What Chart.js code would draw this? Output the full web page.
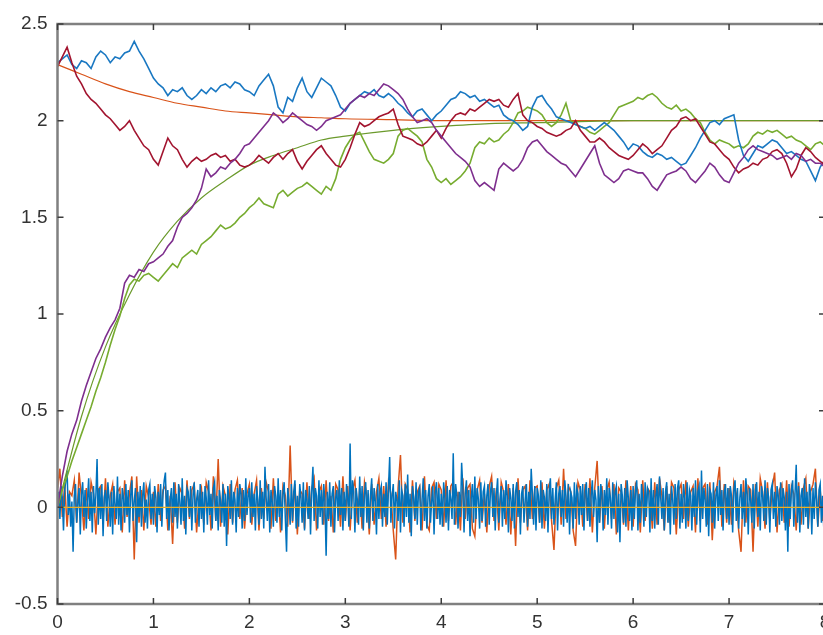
<!DOCTYPE html>
<html>
<head>
<meta charset="utf-8">
<script src="https://cdn.jsdelivr.net/npm/chart.js@4.4.1/dist/chart.umd.min.js"></script>
<style>
  html, body { margin: 0; padding: 0; background: #fff; overflow: hidden; }
  #wrap { width: 823px; height: 635px; overflow: hidden; }
</style>
</head>
<body>
<div id="wrap"><canvas id="myChart" width="840" height="635"></canvas></div>
<script>
// x range covered by the traced series
const xMax = 8;

// axis ticks
const xTicks = [0, 1, 2, 3, 4, 5, 6, 7, 8];
const yTicks = [-0.5, 0, 0.5, 1, 1.5, 2, 2.5];

// random walks, every 0.05
const blueWalk = [
    2.30, 2.32, 2.34, 2.29, 2.27, 2.31, 2.30, 2.27, 2.33, 2.36, 2.34, 2.30, 2.33, 2.32, 2.35, 2.36, 2.41, 2.36, 2.32, 2.27,
    2.22, 2.19, 2.17, 2.13, 2.16, 2.15, 2.17, 2.13, 2.11, 2.13, 2.16, 2.14, 2.17, 2.15, 2.18, 2.19, 2.17, 2.20, 2.19, 2.16,
    2.15, 2.13, 2.18, 2.21, 2.24, 2.18, 2.07, 2.04, 2.12, 2.10, 2.17, 2.22, 2.15, 2.12, 2.17, 2.22, 2.20, 2.18, 2.13, 2.07,
    2.05, 2.09, 2.11, 2.13, 2.15, 2.14, 2.16, 2.13, 2.12, 2.14, 2.12, 2.09, 2.07, 2.04, 2.02, 2.05, 2.06, 2.03, 2.00, 2.03,
    2.05, 2.08, 2.11, 2.12, 2.15, 2.14, 2.12, 2.13, 2.10, 2.11, 2.09, 2.07, 2.08, 2.03, 2.01, 2.00, 1.98, 1.95, 1.97, 2.07,
    2.12, 2.13, 2.09, 2.06, 2.02, 2.01, 2.00, 1.99, 1.98, 1.97, 1.96, 1.97, 1.95, 1.97, 1.99, 1.97, 1.95, 1.92, 1.89, 1.85,
    1.88, 1.87, 1.84, 1.82, 1.81, 1.83, 1.82, 1.80, 1.81, 1.79, 1.77, 1.78, 1.82, 1.86, 1.91, 1.95, 1.99, 2.00, 1.98, 2.01,
    2.02, 2.03, 1.90, 1.82, 1.79, 1.83, 1.87, 1.86, 1.88, 1.90, 1.89, 1.86, 1.83, 1.84, 1.82, 1.80, 1.79, 1.74, 1.69, 1.76, 1.80
];
const redWalk = [
    2.28, 2.33, 2.38, 2.30, 2.23, 2.19, 2.14, 2.11, 2.09, 2.06, 2.03, 2.01, 1.98, 1.95, 1.97, 2.00, 1.95, 1.91, 1.87, 1.85,
    1.80, 1.77, 1.84, 1.91, 1.87, 1.85, 1.80, 1.76, 1.79, 1.81, 1.79, 1.80, 1.82, 1.83, 1.81, 1.82, 1.79, 1.80, 1.77, 1.76,
    1.77, 1.79, 1.82, 1.80, 1.78, 1.81, 1.83, 1.80, 1.83, 1.85, 1.79, 1.75, 1.79, 1.82, 1.85, 1.87, 1.83, 1.80, 1.77, 1.76,
    1.80, 1.86, 1.93, 1.99, 1.97, 1.98, 2.00, 2.02, 2.03, 2.04, 2.06, 1.98, 1.92, 1.91, 1.90, 1.88, 1.87, 1.89, 1.92, 1.95,
    1.91, 1.96, 2.00, 2.03, 2.04, 2.03, 2.06, 2.05, 2.07, 2.09, 2.11, 2.10, 2.11, 2.08, 2.07, 2.11, 2.14, 2.03, 2.00, 1.99,
    1.97, 1.96, 1.94, 1.93, 1.92, 1.93, 1.95, 1.96, 2.00, 1.95, 1.92, 1.89, 1.89, 1.91, 1.89, 1.86, 1.84, 1.82, 1.81, 1.80,
    1.82, 1.85, 1.88, 1.86, 1.83, 1.85, 1.87, 1.91, 1.95, 1.97, 2.01, 2.02, 2.00, 2.01, 1.97, 1.93, 1.89, 1.88, 1.85, 1.82,
    1.80, 1.76, 1.73, 1.75, 1.76, 1.78, 1.77, 1.80, 1.81, 1.84, 1.85, 1.83, 1.78, 1.71, 1.75, 1.82, 1.86, 1.84, 1.81, 1.79, 1.77
];
const purpleWalk = [
    0.00, 0.16, 0.29, 0.38, 0.45, 0.55, 0.63, 0.70, 0.77, 0.82, 0.88, 0.93, 0.97, 1.03, 1.16, 1.20, 1.19, 1.23, 1.22, 1.26,
    1.27, 1.29, 1.31, 1.35, 1.38, 1.45, 1.50, 1.52, 1.55, 1.59, 1.65, 1.75, 1.71, 1.73, 1.76, 1.75, 1.78, 1.80, 1.83, 1.87,
    1.88, 1.91, 1.94, 1.97, 2.00, 2.04, 2.02, 1.99, 2.01, 2.04, 2.02, 2.00, 1.98, 1.97, 1.95, 1.97, 2.00, 2.01, 2.02, 2.03,
    2.06, 2.09, 2.11, 2.13, 2.12, 2.14, 2.13, 2.16, 2.19, 2.18, 2.16, 2.14, 2.11, 2.06, 2.02, 1.99, 2.00, 2.01, 1.99, 1.95,
    1.92, 1.89, 1.86, 1.83, 1.81, 1.79, 1.76, 1.69, 1.66, 1.68, 1.66, 1.64, 1.75, 1.78, 1.76, 1.74, 1.76, 1.80, 1.86, 1.89,
    1.90, 1.87, 1.84, 1.82, 1.80, 1.78, 1.77, 1.74, 1.71, 1.75, 1.79, 1.83, 1.87, 1.78, 1.72, 1.70, 1.68, 1.70, 1.74, 1.75,
    1.74, 1.73, 1.73, 1.70, 1.66, 1.64, 1.68, 1.72, 1.73, 1.74, 1.76, 1.74, 1.70, 1.68, 1.71, 1.74, 1.78, 1.76, 1.72, 1.69,
    1.68, 1.73, 1.78, 1.81, 1.85, 1.87, 1.85, 1.84, 1.83, 1.82, 1.80, 1.81, 1.82, 1.80, 1.83, 1.82, 1.79, 1.80, 1.78, 1.78, 1.76
];
const greenWalk = [
    0.00, 0.09, 0.16, 0.24, 0.31, 0.38, 0.45, 0.52, 0.60, 0.67, 0.75, 0.84, 0.92, 0.99, 1.08, 1.15, 1.18, 1.17, 1.20, 1.21,
    1.19, 1.17, 1.20, 1.23, 1.26, 1.24, 1.29, 1.31, 1.33, 1.31, 1.36, 1.38, 1.40, 1.43, 1.46, 1.44, 1.45, 1.47, 1.50, 1.52,
    1.55, 1.57, 1.60, 1.57, 1.56, 1.55, 1.62, 1.64, 1.61, 1.63, 1.65, 1.66, 1.68, 1.66, 1.64, 1.62, 1.66, 1.64, 1.70, 1.80,
    1.86, 1.90, 1.93, 1.94, 1.89, 1.84, 1.80, 1.79, 1.78, 1.80, 1.83, 1.92, 1.95, 1.96, 1.94, 1.92, 1.89, 1.80, 1.76, 1.70,
    1.68, 1.70, 1.67, 1.69, 1.71, 1.74, 1.78, 1.86, 1.89, 1.88, 1.91, 1.89, 1.90, 1.93, 1.95, 1.99, 2.04, 2.05, 2.07, 2.06,
    2.05, 2.03, 1.99, 1.97, 1.99, 2.03, 2.09, 2.00, 1.98, 1.97, 1.96, 1.94, 1.93, 1.95, 1.97, 1.99, 2.03, 2.07, 2.08, 2.09,
    2.10, 2.12, 2.11, 2.13, 2.14, 2.12, 2.09, 2.07, 2.06, 2.08, 2.05, 2.06, 2.04, 2.01, 1.99, 1.94, 1.90, 1.88, 1.90, 1.89,
    1.88, 1.86, 1.87, 1.86, 1.88, 1.92, 1.94, 1.93, 1.95, 1.94, 1.95, 1.93, 1.91, 1.92, 1.90, 1.89, 1.87, 1.85, 1.88, 1.89, 1.87
];

// smooth mean curves
const smoothX = [0, 0.25, 0.5, 0.75, 1, 1.25, 1.5, 1.75, 2, 2.25, 2.5, 2.75, 3, 3.5, 4, 4.5, 5, 6, 7, 8];
const redMean = [2.29, 2.24, 2.19, 2.15, 2.12, 2.09, 2.07, 2.05, 2.04, 2.03, 2.02, 2.015, 2.01, 2.005, 2.0, 2.0, 2.0, 2.0, 2.0, 2.0];
const greenMean = [0, 0.47, 0.83, 1.10, 1.32, 1.48, 1.60, 1.69, 1.77, 1.82, 1.86, 1.90, 1.92, 1.95, 1.97, 1.985, 1.99, 2.0, 2.0, 2.0];

// blue noise around zero, every 0.0125
const blueNoise = [
    0.00, 0.08, -0.06, 0.11, 0.05, -0.12, 0.09, 0.14, 0.19, -0.04, 0.07, -0.10, 0.03, -0.23, 0.06, 0.12, -0.08, 0.02, 0.10, -0.14,
    0.07, 0.13, -0.05, 0.09, -0.11, 0.04, 0.15, -0.07, 0.08, -0.13, 0.11, -0.03, 0.06, 0.25, -0.09, 0.10, -0.06, 0.12, -0.15, 0.05,
    0.09, -0.07, 0.13, 0.04, -0.10, 0.08, -0.14, 0.11, 0.02, -0.06, 0.16, -0.09, 0.07, -0.12, 0.10, 0.05, -0.08, 0.12, -0.04, 0.09,
    -0.13, 0.06, 0.14, -0.07, 0.03, 0.10, -0.18, 0.08, -0.05, 0.11, -0.10, 0.06, 0.13, -0.08, 0.04, -0.11, 0.09, 0.12, -0.06, 0.07,
    -0.09, 0.11, 0.05, -0.13, 0.08, -0.04, 0.12, -0.10, 0.07, 0.14, 0.18, -0.06, 0.09, -0.12, 0.04, 0.10, -0.08, 0.13, -0.05, 0.07,
    -0.11, 0.12, 0.03, -0.09, 0.15, -0.07, 0.06, -0.14, 0.10, 0.08, -0.05, 0.11, -0.12, 0.06, 0.13, -0.08, 0.04, 0.09, -0.10, 0.12,
    -0.06, 0.08, -0.13, 0.11, 0.05, -0.09, 0.14, -0.04, 0.07, -0.11, 0.10, 0.13, -0.07, 0.06, -0.12, 0.09, 0.03, -0.08, 0.12, -0.10,
    0.07, -0.20, 0.11, 0.05, -0.06, 0.14, -0.09, 0.08, 0.04, -0.13, 0.10, -0.05, 0.12, 0.07, -0.11, 0.09, -0.07, 0.15, -0.04, 0.06,
    0.10, -0.08, 0.13, -0.05, 0.07, -0.12, 0.11, 0.04, -0.09, 0.14, -0.06, 0.08, -0.11, 0.21, 0.05, -0.07, 0.12, -0.13, 0.09, 0.03,
    -0.10, 0.11, 0.06, -0.08, 0.15, -0.05, 0.09, -0.12, 0.07, 0.13, -0.06, -0.23, 0.10, 0.04, -0.09, 0.12, -0.07, 0.08, 0.14, -0.11,
    0.06, -0.10, 0.12, 0.05, -0.08, 0.13, -0.12, 0.09, 0.04, -0.06, 0.11, -0.14, 0.08, 0.21, -0.07, 0.10, 0.06, -0.11, 0.14, -0.05,
    0.09, -0.09, 0.12, 0.03, -0.25, 0.08, -0.06, 0.13, -0.10, 0.07, 0.11, -0.13, 0.05, 0.09, -0.07, 0.14, -0.04, 0.10, -0.12, 0.08,
    -0.07, 0.12, 0.05, -0.10, 0.33, -0.06, 0.14, 0.08, -0.13, 0.10, 0.04, -0.09, 0.16, -0.05, 0.11, -0.12, 0.07, 0.13, -0.08, 0.09,
    -0.11, 0.06, 0.15, -0.07, 0.10, 0.03, -0.14, 0.12, -0.06, 0.08, 0.11, -0.10, 0.07, -0.05, 0.13, -0.09, 0.10, 0.26, -0.08, 0.06,
    0.12, -0.11, 0.08, 0.04, -0.07, 0.14, -0.13, 0.09, 0.06, -0.10, 0.12, -0.05, 0.17, -0.08, 0.07, -0.15, 0.11, 0.05, -0.06, 0.13,
    -0.09, 0.08, 0.10, -0.12, 0.04, 0.15, -0.07, 0.09, -0.11, 0.06, 0.12, -0.08, 0.03, 0.11, -0.14, 0.08, 0.13, -0.06, 0.10, -0.09,
    0.07, -0.10, 0.13, 0.05, -0.08, 0.11, -0.12, 0.09, 0.04, -0.06, 0.28, -0.09, 0.12, 0.06, -0.11, 0.08, -0.05, 0.23, 0.10, -0.13,
    0.07, 0.14, -0.07, 0.09, -0.15, 0.05, 0.12, -0.08, 0.16, -0.06, 0.10, 0.04, -0.11, 0.13, -0.07, 0.08, 0.11, -0.10, 0.06, 0.12,
    -0.09, 0.08, 0.13, -0.05, 0.10, -0.12, 0.07, 0.15, -0.08, 0.04, 0.11, -0.10, 0.09, -0.06, 0.14, 0.06, -0.13, 0.10, 0.05, -0.07,
    0.12, -0.11, 0.08, 0.13, -0.05, 0.09, -0.14, 0.07, 0.11, -0.08, 0.04, 0.12, -0.10, 0.08, -0.06, 0.20, 0.07, -0.09, 0.11, -0.12,
    0.10, 0.06, -0.08, 0.14, -0.11, 0.09, 0.05, -0.07, 0.12, -0.13, 0.08, 0.15, -0.06, 0.10, -0.09, 0.04, 0.13, -0.12, 0.07, 0.11,
    -0.05, 0.09, -0.10, 0.14, 0.06, -0.08, 0.12, -0.14, 0.08, 0.05, -0.11, 0.13, -0.06, 0.10, 0.07, -0.09, 0.11, -0.04, 0.12, -0.12,
    0.08, 0.13, -0.07, 0.10, -0.10, 0.06, 0.14, -0.05, 0.09, 0.04, -0.18, 0.11, -0.08, 0.12, 0.07, -0.12, 0.09, -0.04, 0.15, -0.09,
    0.10, 0.05, -0.11, 0.13, -0.06, 0.08, 0.11, -0.13, 0.07, -0.18, 0.12, 0.06, -0.08, 0.10, -0.10, 0.14, 0.05, -0.07, 0.09, -0.12,
    0.11, -0.06, 0.09, 0.14, -0.12, 0.07, -0.08, 0.12, 0.04, -0.10, 0.13, -0.05, 0.10, 0.08, -0.13, 0.15, -0.07, 0.09, -0.11, 0.06,
    0.12, -0.09, 0.16, 0.05, -0.06, 0.10, -0.12, 0.08, 0.13, -0.08, 0.07, -0.14, 0.11, 0.04, -0.09, 0.12, -0.06, 0.10, 0.14, -0.11,
    0.07, -0.08, 0.12, 0.05, -0.11, 0.13, -0.07, 0.09, 0.06, -0.12, 0.10, -0.05, 0.14, -0.09, 0.08, 0.11, -0.13, 0.19, -0.06, 0.10,
    0.04, -0.10, 0.12, -0.15, 0.09, 0.07, -0.08, 0.13, -0.11, 0.06, 0.11, -0.07, 0.14, -0.04, 0.09, -0.12, 0.08, 0.12, -0.06, 0.10,
    -0.09, 0.11, 0.06, -0.13, 0.09, 0.14, -0.07, 0.10, -0.11, 0.05, 0.12, -0.06, 0.08, -0.10, 0.15, 0.07, -0.14, 0.10, 0.04, -0.08,
    0.12, -0.11, 0.09, 0.13, -0.05, 0.08, -0.12, 0.11, 0.06, -0.07, 0.14, -0.09, 0.10, 0.05, -0.13, 0.09, 0.12, -0.06, 0.08, -0.10,
    0.11, 0.06, -0.09, 0.13, -0.07, 0.10, 0.05, -0.12, 0.08, -0.23, 0.12, -0.06, 0.09, 0.14, -0.10, 0.07, 0.22, -0.08, 0.11, -0.13,
    0.06, 0.10, -0.09, 0.15, -0.05, 0.08, -0.11, 0.12, 0.07, -0.14, 0.10, -0.06, 0.13, 0.04, -0.10, 0.09, 0.12, -0.08, 0.06, -0.11,
    0.09
];
// orange noise around zero, every 0.025
const orangeNoise = [
    0.10, 0.20, -0.05, 0.12, -0.10, 0.08, 0.06, 0.14, -0.08, 0.18, 0.05, -0.12, 0.10, -0.06, 0.13, 0.07, -0.14, 0.09, 0.11, -0.07,
    0.15, -0.10, 0.06, 0.12, -0.09, 0.08, 0.10, -0.13, 0.14, -0.05, 0.07, 0.16, -0.27, 0.16, -0.08, 0.09, -0.12, 0.11, 0.05, -0.09,
    0.08, -0.10, 0.12, -0.07, 0.09, 0.11, -0.12, 0.06, -0.19, 0.13, -0.08, 0.10, 0.07, -0.11, 0.14, -0.06, 0.09, 0.12, -0.13, 0.05,
    0.10, -0.09, 0.13, 0.08, -0.12, 0.16, -0.07, 0.25, -0.10, 0.11, 0.06, -0.14, 0.12, -0.08, 0.09, 0.14, -0.06, 0.10, -0.11, 0.07,
    0.12, -0.09, 0.07, 0.14, -0.12, 0.10, -0.06, 0.13, 0.08, -0.11, 0.15, -0.07, 0.09, -0.13, 0.11, 0.06, -0.10, 0.32, -0.08, 0.12,
    -0.14, 0.09, 0.07, -0.11, 0.13, -0.06, 0.10, 0.15, -0.12, 0.08, 0.11, -0.09, 0.14, -0.07, 0.06, -0.13, 0.12, 0.09, -0.10, 0.16,
    -0.07, 0.11, -0.12, 0.09, 0.14, -0.08, 0.10, -0.11, 0.13, 0.06, -0.14, 0.12, -0.09, 0.08, 0.15, -0.06, 0.11, -0.10, 0.13, 0.07,
    -0.12, -0.27, 0.10, 0.27, -0.08, 0.12, 0.09, -0.13, 0.14, -0.07, 0.08, 0.11, -0.12, 0.16, -0.09, -0.12, 0.10, 0.13, -0.06, 0.12,
    0.09, -0.10, 0.14, -0.07, 0.11, 0.13, -0.09, 0.08, -0.12, 0.15, -0.06, 0.10, 0.12, -0.11, -0.15, 0.09, 0.14, -0.08, 0.07, -0.13,
    0.11, 0.16, -0.07, 0.10, -0.12, 0.13, 0.08, -0.09, 0.12, -0.14, 0.10, -0.20, 0.15, -0.08, 0.09, 0.11, -0.12, 0.14, -0.06, 0.10,
    0.11, -0.08, 0.13, -0.11, 0.09, 0.12, -0.07, -0.22, 0.10, 0.14, -0.09, 0.20, -0.06, 0.11, 0.08, -0.12, -0.20, 0.13, 0.09, -0.10,
    0.12, -0.07, 0.15, -0.13, 0.10, 0.24, -0.08, 0.11, -0.11, 0.09, 0.13, -0.06, 0.12, -0.14, 0.10, 0.08, -0.09, 0.14, -0.12, 0.11,
    -0.10, 0.12, 0.09, -0.13, 0.14, -0.07, 0.10, 0.08, -0.11, 0.13, -0.09, 0.15, 0.06, -0.12, 0.11, -0.08, 0.13, 0.10, -0.14, 0.09,
    0.12, -0.06, 0.14, -0.10, 0.08, 0.11, -0.13, 0.15, -0.07, 0.10, 0.12, -0.09, 0.13, -0.17, 0.08, 0.11, 0.21, -0.10, 0.12, -0.08,
    0.10, -0.09, 0.13, 0.07, -0.12, -0.23, 0.14, -0.08, 0.11, 0.09, -0.23, 0.12, -0.10, 0.15, 0.08, -0.11, 0.13, -0.07, 0.10, 0.18,
    -0.13, 0.09, 0.12, -0.08, 0.14, -0.10, 0.11, 0.07, -0.12, 0.13, -0.09, 0.10, 0.15, -0.11, 0.08, 0.12, 0.20, -0.10, 0.09, -0.07, 0.12
];
const zeroLine = [0, 0];
const zeroX = [0, 8];

// spread a series evenly over 0..xMax
function onGrid(values) {
    const step = xMax / (values.length - 1);
    return values.map((v, i) => ({ x: i * step, y: v }));
}
function pairUp(xs, ys) {
    return xs.map((x, i) => ({ x: x, y: ys[i] }));
}

function line(data, color, width, order, extra) {
    return Object.assign({
        data: data,
        borderColor: color,
        borderWidth: width,
        pointRadius: 0,
        tension: 0,
        fill: false,
        order: order
    }, extra || {});
}

// box round the plot with inward ticks, matlab style
const frame = {
    id: 'frame',
    afterDatasetsDraw(chart) {
        const ctx = chart.ctx;
        const a = chart.chartArea;
        const xs = chart.scales.x;
        const ys = chart.scales.y;
        ctx.save();
        ctx.strokeStyle = '#808080';
        ctx.lineWidth = 2.5;
        ctx.strokeRect(a.left, a.top, a.right - a.left, a.bottom - a.top);
        ctx.strokeStyle = '#3c3c3c';
        ctx.lineWidth = 1.5;
        ctx.beginPath();
        xTicks.forEach(function(t) {
            const px = xs.getPixelForValue(t);
            ctx.moveTo(px, a.bottom); ctx.lineTo(px, a.bottom - 6);
            ctx.moveTo(px, a.top); ctx.lineTo(px, a.top + 6);
        });
        yTicks.forEach(function(t) {
            const py = ys.getPixelForValue(t);
            ctx.moveTo(a.left, py); ctx.lineTo(a.left + 6, py);
            ctx.moveTo(a.right, py); ctx.lineTo(a.right - 6, py);
        });
        ctx.stroke();
        ctx.restore();
    }
};

Chart.defaults.font.family = "'Liberation Sans', Arial, sans-serif";
Chart.defaults.font.size = 19;
Chart.defaults.color = '#333333';

const ctx = document.getElementById('myChart').getContext('2d');
const myChart = new Chart(ctx, {
    type: 'line',
    data: {
        datasets: [
            line(onGrid(orangeNoise), '#d95319', 1.5, 10),
            line(onGrid(blueNoise), '#0072bd', 1.5, 9),
            line(pairUp(zeroX, zeroLine), '#edb120', 1.3, 8),
            line(pairUp(smoothX, redMean), '#d95319', 1.2, 7, { cubicInterpolationMode: 'monotone' }),
            line(pairUp(smoothX, greenMean), '#6b9a2c', 1.2, 6, { cubicInterpolationMode: 'monotone' }),
            line(onGrid(greenWalk), '#77ac30', 1.6, 5),
            line(onGrid(blueWalk), '#1a78c2', 1.6, 4),
            line(onGrid(redWalk), '#a2142f', 1.6, 3),
            line(onGrid(purpleWalk), '#7e2f8e', 1.6, 2)
        ]
    },
    options: {
        responsive: false,
        animation: false,
        layout: { padding: { top: 24, right: 15, left: 0, bottom: 0 } },
        plugins: {
            legend: { display: false },
            tooltip: { enabled: false }
        },
        scales: {
            x: {
                type: 'linear',
                min: 0,
                max: 8,
                afterBuildTicks: function(scale) { scale.ticks = xTicks.map(v => ({ value: v })); },
                afterFit: function(scale) { scale.height = 31; },
                grid: { display: false, drawTicks: false },
                border: { display: false },
                ticks: { padding: 7, maxRotation: 0, autoSkip: false, callback: v => String(v) }
            },
            y: {
                min: -0.5,
                max: 2.5,
                afterBuildTicks: function(scale) { scale.ticks = yTicks.map(v => ({ value: v })); },
                afterFit: function(scale) { scale.width = 57.5; },
                grid: { display: false, drawTicks: false },
                border: { display: false },
                ticks: { padding: 10, autoSkip: false, callback: v => String(v) }
            }
        }
    },
    plugins: [frame]
});
</script>
</body>
</html>
